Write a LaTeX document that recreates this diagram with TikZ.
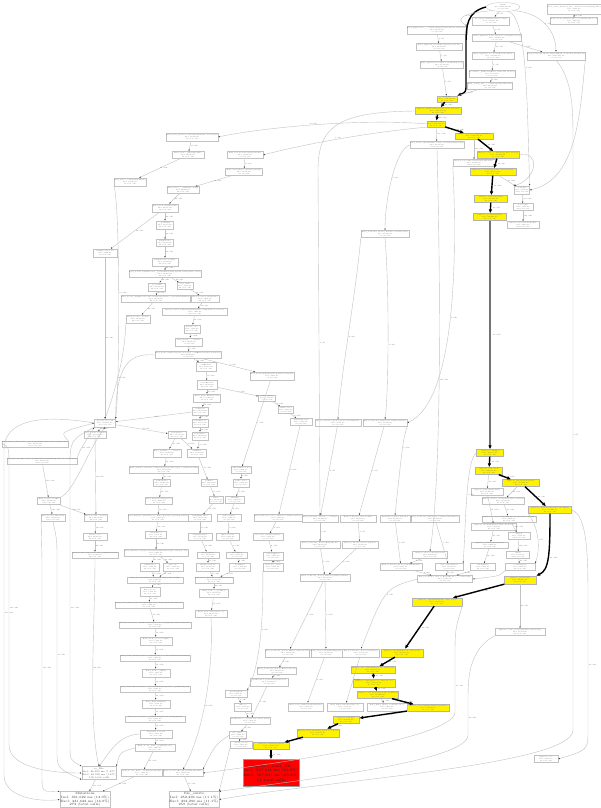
\documentclass[tikz,border=0pt]{standalone}
\usetikzlibrary{arrows.meta,shapes.geometric}
\tikzset{
 bx/.style={draw=black!24, line width=0.32pt, rectangle, inner sep=0.3pt, align=center, font=\fontsize{1.5}{1.85}\selectfont, text=black!65},
 yb/.style={bx, fill=yellow, draw=black!30},
 e/.style={draw=black!24, line width=0.4pt, -{Latex[length=1.8pt,width=1.4pt,color=black!75]}},
 hot/.style={draw=black, line width=1.4pt, -{Latex[length=4pt,width=3.6pt]}},
 hotg/.style={draw=black!55, line width=2.4pt, -{Latex[length=4pt,width=3.6pt,color=black]}},
 lbl/.style={font=\fontsize{1.6}{2}\selectfont, text=black!70, inner sep=0.6pt, right},
 rn/.style={draw=black!40, fill=red, align=center, text=black!85, font=\fontsize{3.6}{4.6}\selectfont, minimum width=49pt, minimum height=27pt, inner sep=0.5pt},
 big/.style={bx, text=black!80, minimum width=41pt, minimum height=16pt, font=\fontsize{3.2}{3.8}\selectfont, inner sep=0.4pt},
}
\newcommand{\nd}[8]{\node[bx,minimum width=#4pt,minimum height=#5pt] (#1) at (#2,#3) {#6\\Incl: #7 ms\\#8 total calls};}
\newcommand{\ny}[8]{\node[yb,minimum width=#4pt,minimum height=#5pt] (#1) at (#2,#3) {#6\\Incl: #7 ms\\#8 total calls};}
\newcommand{\edg}[3]{\draw[e] (#1) -- node[lbl]{#3} (#2);}
\newcommand{\hdg}[3]{\draw[hot] (#1) -- node[lbl,right=1pt]{#3} (#2);}
\begin{document}
\begin{tikzpicture}[x=1pt,y=-1pt]
\fill[white] (0,0) rectangle (600,808);
\useasboundingbox (0,0) rectangle (600,808);
% ---------- top ----------
\node[bx,ellipse,minimum width=34pt,minimum height=9pt,inner sep=0pt] (E0) at (503,7) {\{main\}\\Incl: 2,470,112 ms\\1 total calls};
\nd{T1}{574}{9}{48}{10}{Zend\_Cache\_Backend\_File::\_fileGetContents(string \$file)}{4,120}{38}
\nd{T2}{574}{21}{42}{7}{Zend\_Cache\_Backend\_File::\_test(string \$id, bool)}{3,911}{38}
\nd{A1}{437}{30}{52}{8}{Zend\_Application::\_\_construct(string \$environment, array \$opts)}{98,410}{1}
\nd{A2}{439}{47}{46}{7}{Zend\_Application::setOptions(array \$options)}{97,022}{1}
\nd{A3}{442}{65}{42}{7}{Zend\_Application::setAutoloaderNamespaces()}{12,338}{1}
\nd{B1}{491}{21}{37}{8}{Bootstrap::initialize(array \$config)}{142,117}{1}
\nd{B2}{497}{38}{49}{7}{Zend\_Application\_Bootstrap::bootstrap(\$resource)}{140,630}{1}
\nd{B3}{493}{56}{42}{7}{Zend\_Application::\_executeResource(\$res)}{131,004}{14}
\nd{B4}{492}{74}{42}{7}{Bootstrap::\_initRoutes(Zend\_Controller\_Router)}{55,812}{1}
\nd{B5}{490}{86}{44}{7}{Zend\_Config\_Ini::\_\_construct(string \$filename)}{41,093}{2}
\nd{C1}{556}{56}{54}{8}{Zend\_Controller\_Front::dispatch(Zend\_Controller\_Request \$r)}{1,980,221}{1}
\ny{Y1}{447}{99}{20}{6}{load\_file}{1,224,870}{61}
\ny{Y2}{438}{111}{46}{7}{pmpserv\_include(string \$path, array \$options)}{1,204,552}{61}
\ny{Y3}{436}{124}{18}{6}{pmpserv\_run}{1,198,410}{61}
\ny{Y4}{474}{136}{38}{6}{pmpserv\_resolve\_path(string \$file)}{1,031,877}{61}
\nd{D1}{437}{145}{52}{7}{Zend\_Loader\_StandardAutoloader::loadClass(string \$class)}{61,118}{233}
\ny{Y5}{498}{155}{42}{7}{pmpserv\_cache\_lookup(string \$key, int \$ttl)}{987,004}{61}
\nd{D2}{474}{163}{42}{7}{Zend\_Loader::isReadable(string \$filename)}{48,992}{118}
\ny{Y6}{493}{172}{46}{7}{pmpserv\_locate(string \$name, array \$search)}{955,130}{61}
\nd{D3}{522}{190}{15}{8}{realpath}{8,112}{122}
\nd{D4}{523}{207}{20}{7}{is\_readable}{7,884}{122}
\nd{D5}{523}{225}{32}{7}{Zend\_Loader::standardiseFile}{2,003}{122}
\ny{Y7}{491}{199}{33}{7}{pmpserv\_stat(string \$file)}{921,544}{61}
\ny{Y8}{490}{217}{33}{7}{pmpserv\_open(string \$file)}{910,067}{61}
\nd{M1}{385}{234}{48}{7}{Zend\_Controller\_Router\_Rewrite::route(\$request)}{21,746}{1}
% ---------- left top ----------
\nd{F1}{192}{137}{50}{8}{Zend\_View\_Abstract::render(string \$name, array \$vars)}{88,410}{12}
\nd{F2}{188}{155}{32}{7}{Zend\_View::\_run(string \$file)}{86,997}{12}
\nd{F3}{245}{155}{36}{7}{Zend\_Layout::render(string \$name)}{54,006}{1}
\nd{F4}{244}{172}{37}{7}{Zend\_View\_Helper\_Partial::partial()}{52,118}{9}
\nd{F5}{130}{182}{32}{8}{Zend\_View::\_script(string \$name)}{31,240}{21}
\nd{F6}{183}{190}{30}{7}{Zend\_View::\_\_call(\$name, \$args)}{49,776}{44}
\nd{F7}{165}{208}{26}{8}{Zend\_View::getHelper(\$n)}{44,015}{44}
\nd{F8}{165}{225}{17}{8}{\_getPlugin}{40,551}{44}
\nd{F9}{165}{243}{17}{7}{PluginLoader}{39,802}{44}
\nd{F10}{105}{253}{24}{8}{PluginLoader::load}{8,994}{12}
\nd{F11}{165}{262}{26}{8}{PluginLoader::load(\$n)}{38,117}{44}
\nd{F12}{165}{274}{64}{7}{Zend\_Loader\_PluginLoader::\_getClassFile(string \$prefix, string \$name, array)}{36,908}{44}
\nd{F13}{157}{287}{17}{8}{is\_readable}{10,225}{96}
\nd{F14}{185}{286}{16}{7}{class\_exists}{4,118}{44}
\nd{F15}{156}{299}{66}{7}{Zend\_Loader\_PluginLoader::isLoaded(string \$name) / getClassPath(\$name)}{20,340}{96}
\nd{F16}{205}{299}{29}{7}{Zend\_Loader::loadClass(\$c)}{3,902}{44}
\nd{F17}{195}{312}{65}{7}{Zend\_Loader::loadFile(string \$filename, string \$dirs, bool \$once)}{3,661}{44}
\nd{F18}{138}{319}{24}{8}{Zend\_Loader::\_include}{19,008}{96}
% ---------- middle ----------
\nd{G1}{192}{329}{16}{8}{include\_once}{3,120}{44}
\nd{G2}{189}{342}{27}{8}{Zend\_Form::\_\_construct}{62,771}{3}
\nd{G3}{188}{355}{63}{7}{Zend\_Form::setOptions(array \$options) / addElements(array \$elements)}{60,993}{3}
\nd{G4}{206}{367}{20}{9}{addElement}{41,562}{27}
\nd{G5}{272}{376}{42}{8}{Zend\_Form::addDisplayGroup(array \$elements)}{9,611}{3}
\nd{G6}{207}{385}{20}{9}{createElement}{39,774}{27}
\nd{G7}{207}{398}{27}{8}{Zend\_Form\_Element::init}{35,410}{27}
\nd{G8}{267}{398}{17}{6}{setDecorators}{5,200}{3}
\nd{G9}{286}{410}{15}{7}{addDecorator}{4,887}{9}
\nd{G10}{301}{422}{22}{7}{getPluginLoader}{3,017}{9}
\nd{G11}{200}{411}{16}{8}{setOptions}{30,012}{27}
\nd{G12}{200}{423}{16}{8}{setValidators}{21,558}{27}
\nd{G13}{200}{436}{16}{8}{addValidator}{19,904}{41}
\nd{H0}{105}{423}{21}{8}{spl\_autoload\_call}{412,880}{273}
\nd{H1}{95}{435}{21}{7}{Zend\_Loader::loadClass}{120,554}{96}
\nd{H2}{35}{444}{65}{6}{Zend\_Loader\_Autoloader::\_autoload(callable \$autoloader, string \$class)}{98,201}{118}
\nd{H3}{177}{435}{18}{7}{getValidator}{18,332}{41}
\nd{H4}{197}{453}{19}{8}{addFilter}{15,670}{33}
\nd{H5}{167}{453}{28}{8}{Zend\_Validate::\_\_construct}{12,904}{41}
\nd{H6}{42}{461}{67}{6}{Zend\_Loader\_Autoloader::getClassAutoloaders(string \$class, bool \$internal)}{22,418}{118}
\nd{H7}{164}{470}{65}{7}{Zend\_Validate\_Abstract::setMessages(array \$messages) / setTranslator(\$t)}{11,870}{41}
\nd{H8}{241}{470}{19}{7}{loadDefaultDecorators}{8,816}{3}
\nd{H9}{209}{483}{16}{7}{getFilter}{14,112}{33}
\nd{H10}{241}{483}{16}{8}{getDecorator}{8,004}{9}
\nd{H11}{162}{483}{17}{7}{getTranslator}{10,965}{41}
\nd{H12}{49}{501}{23}{7}{Zend\_Loader::loadFile}{18,776}{118}
\nd{H13}{53}{518}{23}{7}{Zend\_Loader::isReadable}{16,002}{118}
\nd{H14}{96}{518}{23}{7}{Zend\_Loader::\_include}{44,510}{96}
\nd{H15}{159}{501}{27}{7}{Zend\_Registry::isRegistered}{9,740}{41}
\nd{H16}{216}{500}{14}{7}{Filter}{13,020}{33}
\nd{H17}{235}{500}{19}{7}{HtmlTag}{7,610}{9}
\nd{H18}{278}{518}{45}{7}{Zend\_Form\_Decorator\_Abstract::setOptions(array)}{2,410}{9}
\nd{H19}{158}{518}{60}{7}{Zend\_Registry::getInstance() / Zend\_Registry::get(string \$index)}{8,602}{41}
\nd{H20}{200}{518}{23}{7}{StringTrim::filter}{12,118}{33}
\nd{H21}{229}{518}{24}{7}{Label::render}{7,022}{9}
\nd{H22}{95}{537}{24}{7}{include\_once}{42,007}{96}
\nd{H23}{156}{535}{21}{7}{ArrayObject}{7,551}{41}
\nd{H24}{200}{537}{24}{7}{StripTags::filter}{11,430}{33}
\nd{H25}{228}{537}{23}{7}{Errors::render}{6,610}{9}
\nd{H26}{268}{537}{30}{7}{Decorator::getOption(\$key)}{2,180}{9}
\nd{H27}{95}{555}{43}{6}{Zend\_Loader\_Autoloader::autoload(string \$class)}{38,918}{96}
\nd{H28}{156}{553}{63}{7}{Zend\_Translate\_Adapter::translate(string \$messageId, string \$locale)}{6,998}{41}
\nd{H29}{208}{555}{22}{6}{preg\_replace}{10,874}{33}
\nd{H30}{237}{555}{21}{6}{Description}{6,101}{9}
\nd{H31}{273}{556}{20}{8}{removeOption}{1,912}{9}
\nd{H32}{150}{567}{19}{8}{isTranslated}{3,440}{41}
\nd{H33}{173}{567}{20}{8}{getLocale}{3,012}{41}
\nd{H34}{208}{567}{23}{8}{htmlspecialchars}{10,220}{33}
\nd{H35}{240}{567}{21}{8}{ViewHelper}{5,880}{9}
\nd{H36}{273}{567}{20}{8}{array\_key\_exists}{1,700}{9}
\nd{H37}{155}{580}{56}{6}{Zend\_Locale::findLocale(string \$locale) / isLocale(\$l)}{6,002}{41}
\nd{H38}{214}{580}{38}{6}{Zend\_View\_Abstract::escape(mixed \$var)}{15,410}{42}
\nd{H39}{150}{592}{20}{9}{Zend\_Locale}{5,880}{41}
\nd{H40}{214}{593}{29}{8}{Zend\_View::\_\_get(\$key)}{14,877}{42}
\nd{H41}{149}{605}{68}{6}{Zend\_Locale\_Data::getContent(string \$locale, string \$path, mixed \$value)}{5,640}{41}
\nd{H42}{211}{614}{32}{7}{Zend\_View::strictVars(bool)}{14,002}{42}
% ---------- lower left ----------
\nd{L1}{155}{625}{64}{6}{Zend\_Locale\_Data::\_findRoute(string \$locale, string \$path, mixed \$attribute)}{5,512}{41}
\nd{L2}{156}{641}{32}{8}{Zend\_Cache\_Core::load(\$id)}{5,204}{41}
\nd{L3}{155}{658}{66}{6}{Zend\_Cache\_Backend\_File::load(string \$id, bool \$doNotTestCacheValidity)}{5,018}{41}
\nd{L4}{156}{673}{28}{8}{Zend\_Cache::\_id(\$id)}{4,880}{41}
\nd{L5}{155}{689}{66}{6}{Zend\_Cache\_Backend\_File::\_metadatasFile(string \$id) / \_path(string \$id)}{4,702}{41}
\nd{L6}{156}{704}{28}{8}{Zend\_Xml::isXml(\$x)}{4,512}{41}
\nd{L7}{155}{719}{60}{6}{Zend\_Locale\_Data::\_readFile(string \$locale, string \$path)}{4,330}{41}
\nd{L8}{156}{734}{32}{8}{simplexml\_load\_file}{4,101}{41}
\nd{L9}{155}{748}{40}{7}{Zend\_Locale\_Data::\_getFile(\$locale)}{3,990}{41}
\node[bx,minimum width=29pt,minimum height=13pt,font=\fontsize{2.4}{2.9}\selectfont] (K1) at (99,773) {is\_file\\Incl: 46,305 ms (1.8\%)\\Excl: 46,305 ms (1.8\%)\\118 total calls};
\nd{K2}{142}{773}{41}{7}{Zend\_Locale\_Data::\_loadFile(string \$file)}{3,804}{41}
\nd{K3}{183}{773}{38}{7}{Zend\_Loader::isReadable(string \$filename)}{22,617}{87}
\node[big] (M) at (85,799.5) {Mutations\\Incl: 331,622 ms (13.0\%)\\Excl: 331,622 ms (13.0\%)\\273 (total calls)};
\node[big] (N) at (194,799.5) {file\_exists\\Incl: 252,296 ms (11.1\%)\\Excl: 252,296 ms (11.1\%)\\259 (total calls)};
% ---------- right middle ----------
\nd{N1}{338}{423}{46}{7}{Zend\_Controller\_Router\_Route::match(\$path)}{9,310}{6}
\nd{N2}{385}{423}{44}{7}{Zend\_Controller\_Dispatcher::isDispatchable()}{31,220}{2}
\nd{N3}{320}{519}{36}{7}{Zend\_Controller\_Action::\_\_construct}{18,442}{1}
\nd{N4}{358}{519}{36}{7}{Zend\_Controller\_Action::init()}{27,604}{1}
\nd{N5}{320}{545}{40}{7}{Zend\_Controller\_Action\_HelperBroker}{16,880}{1}
\nd{N6}{360}{545}{36}{7}{Zend\_Controller\_Action::dispatch}{25,930}{1}
\nd{P0}{325}{578}{50}{7}{Zend\_Controller\_Action\_Helper::getHelper(\$name)}{40,812}{4}
\nd{I1}{487}{492}{32}{7}{pmpserv\_parse(string \$buf)}{12,410}{61}
\nd{I2}{503}{501}{42}{7}{pmpserv\_header\_check(string \$data, int \$len)}{10,226}{61}
\nd{I3}{509}{519}{53}{6}{pmpserv\_decode\_block(string \$block, int \$offset, int \$size)}{9,880}{61}
\nd{I4}{494}{527}{45}{7}{pmpserv\_checksum(string \$data, int \$seed)}{8,112}{61}
\nd{I5}{519}{536}{22}{7}{unpack}{7,220}{122}
\nd{I6}{490}{545}{37}{6}{pmpserv\_validate(array \$meta)}{6,904}{61}
\nd{I7}{518}{555}{23}{7}{substr}{6,330}{244}
\nd{I8}{430}{555}{35}{7}{Zend\_Loader::loadClass(\$class)}{24,001}{118}
\nd{I9}{395}{519}{30}{7}{Dispatcher::getActionMethod}{11,440}{2}
\nd{I10}{435}{519}{45}{7}{Zend\_Controller\_Dispatcher::loadClass(\$className)}{19,706}{2}
\nd{I11}{401}{567}{42}{7}{Zend\_Controller\_Front::getParam(\$name)}{9,018}{4}
\nd{I12}{449}{567}{28}{7}{class\_exists(\$class)}{17,412}{2}
\nd{I13}{483}{567}{25}{7}{strlen(\$data)}{5,230}{61}
\nd{I14}{520}{567}{30}{7}{crc32(string \$s)}{4,780}{61}
\nd{P1}{445}{579}{55}{7}{Zend\_Controller\_Action\_HelperBroker::\_\_construct(\$a)}{33,905}{4}
\nd{Q2}{520}{632}{50}{7}{pmpserv\_cache\_store(string \$key, mixed \$val)}{11,224}{61}
\nd{S1}{546}{759}{24}{7}{pmpserv\_close}{2,018}{61}
\ny{Y9}{490}{453}{27}{7}{pmpserv\_read(\$fp)}{902,551}{61}
\ny{Y10}{489}{471}{27}{7}{pmpserv\_read\_block}{896,118}{61}
\ny{Y11}{521}{483}{37}{7}{pmpserv\_unpack(string \$raw)}{854,220}{61}
\ny{Y12}{550}{510}{43}{7}{pmpserv\_expand(string \$data, int \$flags)}{801,994}{61}
\ny{Y13}{520}{580}{32}{8}{pmpserv\_prepare(\$d)}{760,412}{61}
\ny{Y13b}{437}{602}{50}{8}{pmpserv\_compile(string \$src, array \$env)}{731,880}{61}
\ny{Y14}{402}{653}{42}{8}{pmpserv\_exec(string \$code, array \$ctx)}{702,551}{61}
\ny{Y15}{373}{670}{44}{7}{pmpserv\_exec\_inner(string \$code, array \$ctx)}{688,004}{61}
\ny{Y16}{374}{683}{42}{8}{pmpserv\_eval(string \$code, array \$scope)}{671,312}{61}
\ny{Y17}{378}{695}{41}{7}{pmpserv\_eval\_file(string \$path, int \$mode)}{650,920}{61}
\ny{Y18}{428}{708}{42}{7}{pmpserv\_resolve(string \$path, array \$inc)}{633,118}{61}
\ny{Y19}{346}{720}{26}{7}{pmpserv\_fetch(\$p)}{612,776}{61}
\ny{Y20}{318}{733}{42}{8}{pmpserv\_fetch\_file(string \$path, bool \$lock)}{601,230}{61}
\ny{Y21}{271}{746}{36}{7}{pmpserv\_load(string \$path)}{590,055}{61}
\node[rn] (R) at (271,773) {pmpserv\_load\_file\\Incl: 587,841 ms (23.8\%)\\Excl: 587,811 ms (23.8\%)\\61 total calls};
\nd{J1}{288}{653}{42}{8}{Zend\_Controller\_Action\_Helper\_Abstract::init()}{12,880}{4}
\nd{J2}{326}{653}{33}{8}{Zend\_View::setScriptPath(\$path)}{10,221}{4}
\nd{J3}{361}{653}{37}{8}{Zend\_Controller\_Action::getHelper()}{15,002}{4}
\nd{J5}{277}{671}{39}{7}{Zend\_Controller\_Action\_Helper::direct()}{11,880}{4}
\nd{J6}{269}{682}{38}{8}{ViewRenderer::getViewScript(\$action)}{10,744}{4}
\nd{J7}{306}{707}{35}{8}{Zend\_View::addBasePath(string \$p)}{8,930}{4}
\nd{J8}{345}{707}{36}{8}{Zend\_Filter::filterStatic(\$v, \$c)}{9,310}{4}
\nd{J9}{387}{707}{40}{8}{Zend\_Filter\_Inflector::filter(\$source)}{7,661}{4}
\nd{J14}{236}{694}{22}{7}{getScriptPath}{6,002}{4}
\nd{J10}{243}{707}{17}{8}{inflector}{5,830}{4}
\nd{J11}{250}{721}{40}{7}{ViewRenderer::\_translateSpec(array \$vars)}{5,412}{4}
\nd{J12}{238}{735}{17}{7}{str\_replace}{4,990}{8}
\nd{J13}{241}{745}{22}{7}{stream\_resolve}{4,410}{8}
% ================= edges =================
% hot path
\draw[hot] (E0.west) .. controls (467,12) and (466,25) .. (466,45) -- (466,84) .. controls (466,92) .. (Y1.north east);
\hdg{Y1}{Y2}{61 calls}
\hdg{Y2}{Y3}{61 calls}
\hdg{Y3}{Y4}{61 calls}
\hdg{Y4}{Y5}{61 calls}
\hdg{Y5}{Y6}{61 calls}
\hdg{Y6}{Y7}{61 calls}
\hdg{Y7}{Y8}{61 calls}
\draw[hotg] (Y8) -- node[lbl,right=1.5pt]{61 calls} (Y9);
\hdg{Y9}{Y10}{61 calls}
\hdg{Y10}{Y11}{61 calls}
\hdg{Y11}{Y12}{61 calls}
\draw[hot] (Y12.south) .. controls (550,555) and (549,570) .. node[lbl,right=1pt]{61 calls} (Y13.north east);
\hdg{Y13}{Y13b}{61 calls}
\hdg{Y13b}{Y14}{61 calls}
\hdg{Y14}{Y15}{61 calls}
\hdg{Y15}{Y16}{61 calls}
\hdg{Y16}{Y17}{61 calls}
\hdg{Y17}{Y18}{61 calls}
\hdg{Y18}{Y19}{61 calls}
\hdg{Y19}{Y20}{61 calls}
\hdg{Y20}{Y21}{61 calls}
\hdg{Y21}{R}{61 calls}
% top thin
\edg{E0}{B1}{1 call}
\edg{B1}{B2}{1 call}
\edg{B2}{B3}{14 calls}
\edg{B3}{B4}{1 call}
\edg{B4}{B5}{2 calls}
\edg{B5}{Y1}{0.7\%}
\edg{B2}{C1}{0.1\%}
\edg{A1}{A2}{1 call}
\edg{A2}{A3}{1 call}
\edg{A3}{Y1}{1 call}
\edg{T1}{T2}{38 calls}
\edg{Y3}{D1}{233 calls}
\edg{Y4}{D2}{118 calls}
\edg{Y6}{D3}{61 calls}
\edg{D3}{D4}{122 calls}
\edg{D4}{D5}{122 calls}
\draw[e] (E0.200) .. controls (468,12) and (452,18) .. node[lbl]{1 call} (A1.north east);
\draw[e] (E0.-20) .. controls (540,12) and (556,30) .. node[lbl]{1 call} (C1.north);
\draw[e] (E0.-40) .. controls (527,16) and (527,100) .. node[lbl]{4 calls} (D3.north east);
\draw[e] (C1.south east) .. controls (580,110) and (578,180) .. (D3.east);
\draw[e] (C1.south) .. controls (573,80) and (573,110) .. (573,140) -- node[lbl]{0.1\%} (573,730) .. controls (573,765) and (330,780) .. (N.east);
\draw[e] (Y5.east) .. controls (540,150) and (538,178) .. (D3.north west);
\draw[e] (Y3.west) .. controls (360,118) and (260,128) .. node[lbl,above]{12 calls} (F1.east);
\draw[e] (Y3.south west) .. controls (370,132) and (300,145) .. node[lbl,above]{1 call} (F3.east);
\draw[e] (Y2.west) .. controls (340,112) and (318,125) .. (318,170) -- node[lbl]{1 call} (N3.north);
\draw[e] (D1.south) .. controls (441,300) and (441,480) .. node[lbl]{118 calls} (I8.north);
\draw[e] (D2.south west) .. controls (457,250) and (457,400) .. node[lbl]{2 calls} (N2.east);
\draw[e] (D1.west) .. controls (395,150) and (385,200) .. node[lbl]{1 call} (M1.north);
\draw[e] (M1.south west) .. controls (355,300) and (340,380) .. node[lbl]{6 calls} (N1.north);
\draw[e] (M1.south) .. controls (390,300) and (388,400) .. node[lbl]{2 calls} (N2.north);
% left
\edg{F1}{F2}{12 calls}
\edg{F2}{F5}{21 calls}
\edg{F3}{F4}{9 calls}
\edg{F4}{F6}{44 calls}
\edg{F6}{F7}{44 calls}
\edg{F7}{F8}{44 calls}
\edg{F7}{F10}{12 calls}
\edg{F8}{F9}{44 calls}
\edg{F9}{F11}{44 calls}
\edg{F11}{F12}{44 calls}
\edg{F12}{F13}{96 calls}
\edg{F12}{F14}{44 calls}
\edg{F13}{F15}{96 calls}
\edg{F14}{F16}{44 calls}
\edg{F15}{F18}{96 calls}
\edg{F16}{F17}{44 calls}
\edg{F17}{G1}{44 calls}
\edg{G1}{G2}{3 calls}
\edg{G2}{G3}{3 calls}
\edg{G3}{G4}{27 calls}
\edg{G3}{G5}{3 calls}
\edg{G4}{G6}{27 calls}
\edg{G6}{G7}{27 calls}
\edg{G6}{G8}{3 calls}
\edg{G8}{G9}{9 calls}
\edg{G9}{G10}{9 calls}
\edg{G7}{G11}{27 calls}
\edg{G11}{G12}{27 calls}
\edg{G12}{G13}{41 calls}
\edg{G11}{H0}{0.1\%}
\edg{F10}{H0}{12 calls}
\draw[e] (G3.west) .. controls (125,352) and (116,372) .. (H0.north east);
\draw[e] (F5.south west) .. controls (120,200) and (120,380) .. node[lbl]{21 calls} (H0.north east);
\draw[e] (F18.south west) .. controls (125,360) and (112,400) .. node[lbl]{96 calls} (H0.north);
\edg{H0}{H1}{96 calls}
\edg{H0}{H3}{41 calls}
\draw[e] (H2.north east) .. controls (60,432) .. (H0.west);
\draw[e] (H6.north east) .. controls (80,450) .. node[lbl]{118 calls} (H0.south west);
\draw[e] (H0.west) .. controls (40,414) and (4,420) .. (4,450) -- node[lbl]{273 calls} (4,775) .. controls (4,798) and (40,802) .. (M.west);
\draw[e] (H2.west) .. controls (9,446) .. (9,470) -- node[lbl]{118 calls} (9,745) .. controls (9,770) and (60,773) .. (K1.west);
\edg{H6}{H12}{118 calls}
\draw[e] (H12.north east) .. controls (75,490) and (88,450) .. (H0.south);
\edg{H12}{H14}{96 calls}
\edg{H12}{H13}{118 calls}
\edg{H1}{H14}{96 calls}
\edg{H14}{H22}{96 calls}
\edg{H22}{H27}{96 calls}
\draw[e] (H13.south west) .. controls (42,540) .. (42,560) -- node[lbl]{118 calls} (42,775) .. controls (42,792) .. (M.north west);
\draw[e] (H13.south) .. controls (57,540) .. (57,560) -- node[lbl]{87 calls} (57,750) .. controls (57,768) .. (K1.south west);
\draw[e] (H0.south west) .. controls (70,440) .. (70,470) -- node[lbl]{273 calls} (70,745) .. controls (70,760) .. (K1.north west);
\draw[e] (H27.south) .. controls (95,620) and (88,720) .. node[lbl]{96 calls} (K1.north);
% center column
\edg{H3}{H5}{41 calls}
\edg{H3}{H4}{33 calls}
\edg{G13}{H4}{33 calls}
\edg{H5}{H7}{41 calls}
\edg{H7}{H11}{41 calls}
\edg{H11}{H15}{41 calls}
\edg{H15}{H19}{41 calls}
\edg{H19}{H23}{41 calls}
\edg{H23}{H28}{41 calls}
\edg{H28}{H32}{41 calls}
\edg{H28}{H33}{41 calls}
\edg{H32}{H37}{41 calls}
\edg{H33}{H37}{41 calls}
\edg{H37}{H39}{41 calls}
\edg{H39}{H41}{41 calls}
\edg{H41}{L1}{41 calls}
\edg{L1}{L2}{41 calls}
\edg{L2}{L3}{41 calls}
\edg{L3}{L4}{41 calls}
\edg{L4}{L5}{41 calls}
\edg{L5}{L6}{41 calls}
\edg{L6}{L7}{41 calls}
\edg{L7}{L8}{41 calls}
\edg{L8}{L9}{41 calls}
\edg{L9}{K2}{41 calls}
\draw[e] (L9.west) .. controls (120,752) .. (K1.north east);
\draw[e] (L8.west) .. controls (118,735) and (110,752) .. (K1.north);
\edg{K2}{M}{41 calls}
\edg{K1}{M}{118 calls}
\edg{K3}{N}{87 calls}
\edg{H4}{H9}{33 calls}
\edg{H9}{H16}{33 calls}
\edg{H16}{H20}{33 calls}
\edg{H20}{H24}{33 calls}
\edg{H24}{H29}{33 calls}
\edg{H29}{H34}{33 calls}
\edg{H34}{H38}{33 calls}
\edg{H38}{H40}{42 calls}
\edg{H40}{H42}{42 calls}
\draw[e] (H42.south) .. controls (214,680) and (200,740) .. node[lbl]{42 calls} (K3.north);
\edg{G5}{H8}{3 calls}
\edg{H8}{H10}{9 calls}
\edg{H10}{H17}{9 calls}
\edg{H17}{H21}{9 calls}
\edg{H21}{H25}{9 calls}
\edg{H25}{H30}{9 calls}
\edg{H30}{H35}{9 calls}
\edg{H35}{H38}{9 calls}
\edg{G10}{H18}{9 calls}
\edg{H18}{H26}{9 calls}
\edg{H26}{H31}{9 calls}
\edg{H31}{H36}{9 calls}
\draw[e] (H36.south west) .. controls (263,600) and (263,660) .. node[lbl]{4 calls} (J14.north east);
\edg{J14}{J10}{4 calls}
\edg{J10}{J11}{4 calls}
\edg{J11}{J12}{8 calls}
\edg{J12}{J13}{8 calls}
\draw[e] (J13.south west) .. controls (225,770) .. (N.north east);
\draw[e] (J12.west) .. controls (215,745) .. (K3.north east);
% right middle
\edg{N1}{N3}{1 call}
\edg{N2}{N4}{1 call}
\draw[e] (N2.south east) .. controls (403,440) .. node[lbl]{2 calls} (I9.north);
\edg{N3}{N5}{1 call}
\edg{N4}{N6}{1 call}
\edg{N5}{P0}{2 calls}
\edg{N6}{P0}{2 calls}
\edg{I9}{I11}{2 calls}
\edg{I10}{I12}{2 calls}
\edg{I8}{I11}{2 calls}
\edg{I11}{P1}{4 calls}
\edg{I12}{P1}{2 calls}
\edg{I13}{P1}{1 call}
\draw[e] (I14.south west) .. controls (500,576) .. (P1.east);
\edg{Y10}{I1}{61 calls}
\edg{Y11}{I2}{61 calls}
\edg{I1}{I4}{61 calls}
\edg{I2}{I3}{61 calls}
\edg{I3}{I5}{122 calls}
\edg{I4}{I6}{61 calls}
\edg{I5}{I7}{244 calls}
\edg{I6}{I13}{61 calls}
\edg{I7}{I14}{61 calls}
\draw[e] (Y9.west) .. controls (466,460) and (466,520) .. node[lbl]{2 calls} (I12.north east);
\draw[e] (Y12.south west) .. controls (540,530) and (540,550) .. node[lbl]{1.0\%} (I14.north east);
\draw[e] (Y12.east) .. controls (588,515) and (588,560) .. (588,600) -- node[lbl]{61 calls} (588,730) .. controls (588,750) .. (S1.east);
\edg{P0}{J1}{4 calls}
\edg{P0}{J2}{4 calls}
\draw[e] (P1.west) .. controls (385,588) .. node[lbl]{4 calls} (J3.north);
\edg{J1}{J5}{4 calls}
\edg{J5}{J6}{4 calls}
\edg{J6}{J11}{4 calls}
\edg{J2}{J7}{4 calls}
\edg{J3}{J8}{4 calls}
\edg{Y17}{J9}{4 calls}
\edg{Y13}{Q2}{61 calls}
\draw[e] (Q2.south west) .. controls (468,650) and (468,680) .. (468,700) -- node[lbl]{61 calls} (468,735) .. controls (468,760) and (320,778) .. (N.north east);
\draw[e] (Y13b.south east) .. controls (455,630) .. (455,660) -- node[lbl]{87 calls} (455,712) .. controls (455,735) and (320,758) .. (K3.east);
\end{tikzpicture}
\end{document}
